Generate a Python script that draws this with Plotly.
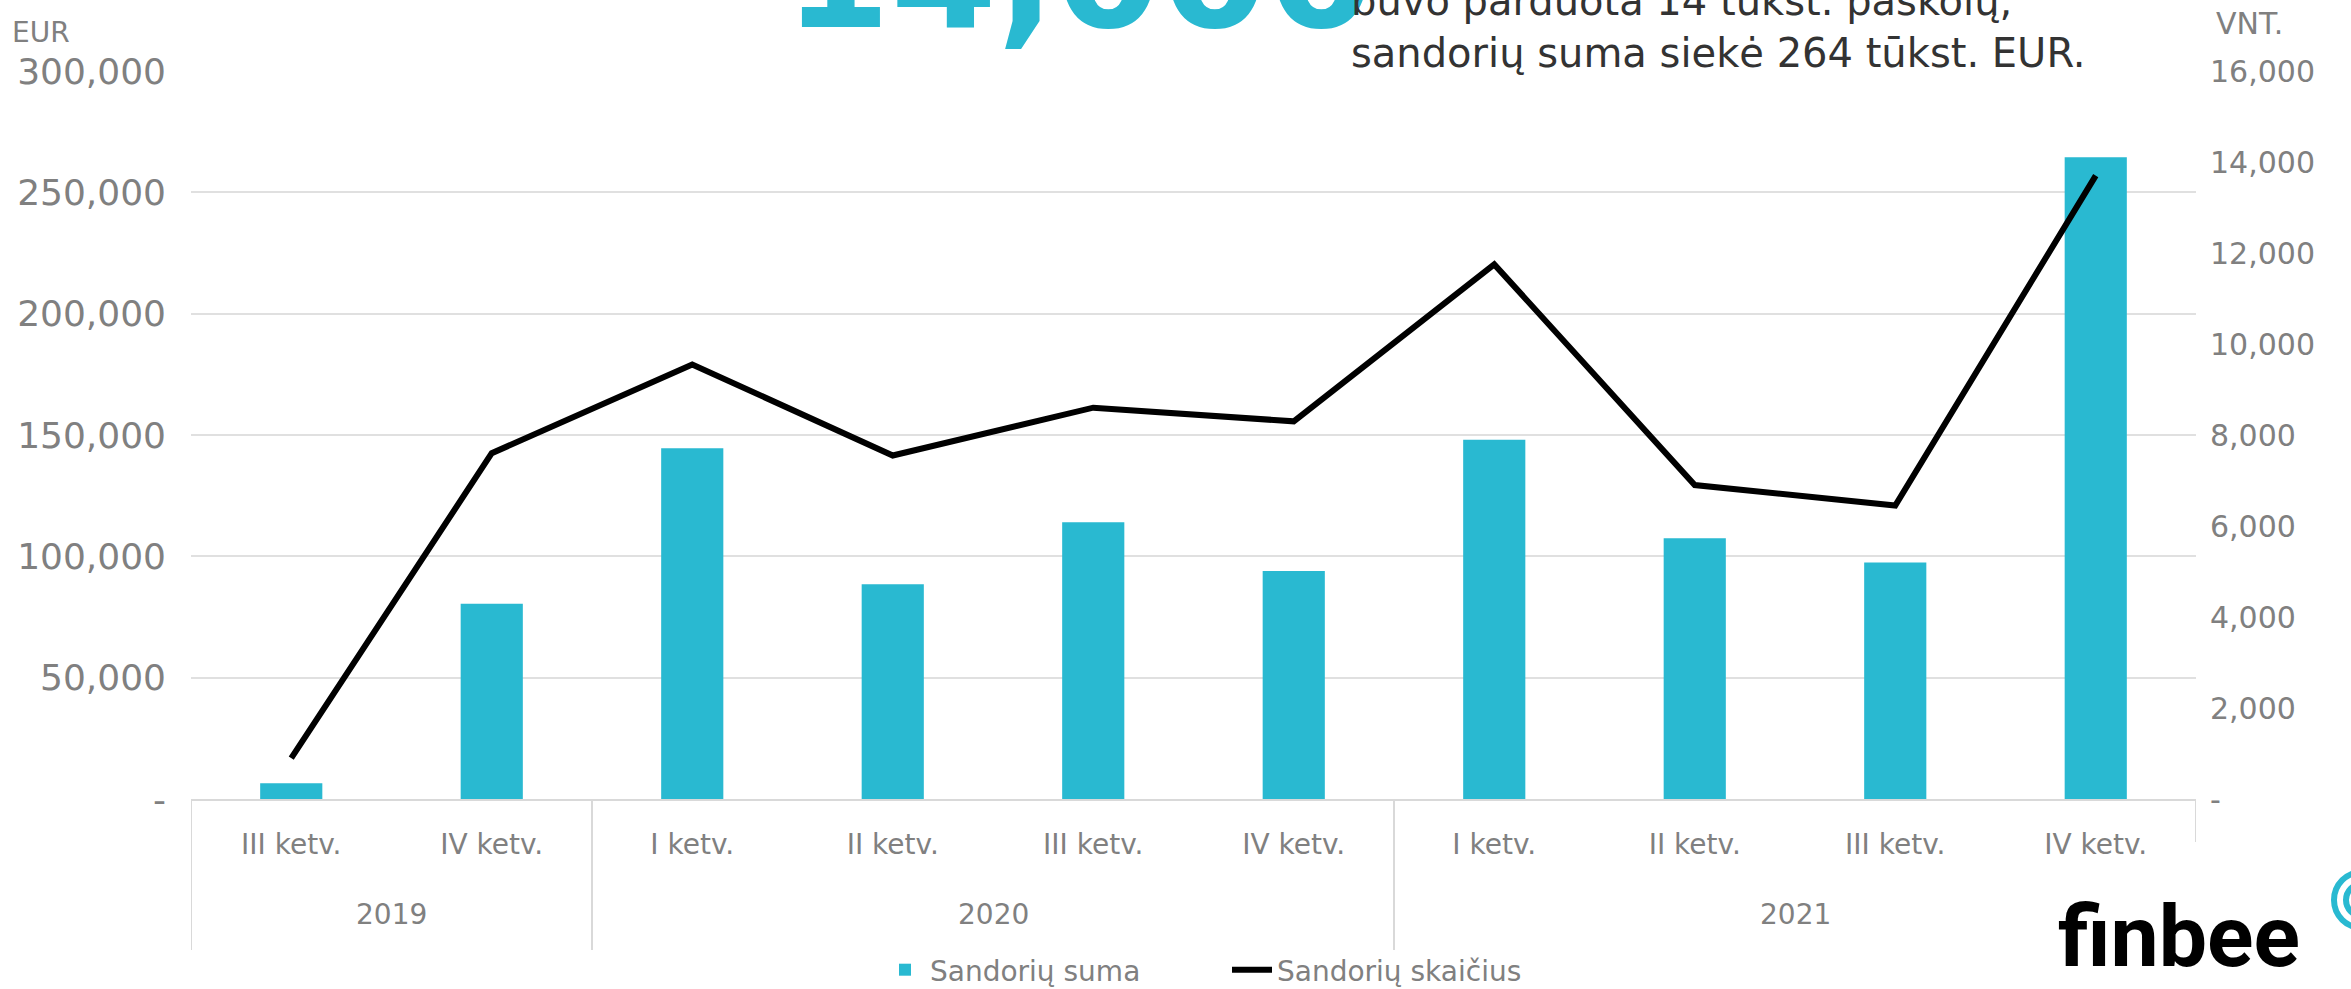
import plotly.graph_objects as go

# ---------------- data ----------------
years = ["2019", "2019", "2020", "2020", "2020", "2020", "2021", "2021", "2021", "2021"]
quarters = ["III ketv.", "IV ketv.", "I ketv.", "II ketv.", "III ketv.", "IV ketv.",
            "I ketv.", "II ketv.", "III ketv.", "IV ketv."]
sandoriu_suma = [6500, 80500, 144500, 88500, 114000, 94000, 148000, 107500, 97500, 264500]
sandoriu_skaicius = [900, 7600, 9550, 7550, 8600, 8300, 11750, 6900, 6450, 13700]
eur_ticks = [0, 50000, 100000, 150000, 200000, 250000, 300000]
eur_labels = ["-", "50,000", "100,000", "150,000", "200,000", "250,000", "300,000"]
vnt_ticks = [0, 2000, 4000, 6000, 8000, 10000, 12000, 14000, 16000]
vnt_labels = ["-", "2,000", "4,000", "6,000", "8,000", "10,000", "12,000", "14,000", "16,000"]

# ---------------- layout constants ----------------
W, H = 2351, 989
L, R, T, B = 191, 155, 71, 190
PW, PH = W - L - R, H - T - B


def px(x):
    return (x - L) / PW


def py(y):
    return (H - B - y) / PH


TEAL = "#29B9D1"
GREY = "#808080"
LINEGREY = "#d9d9d9"
FONT = "DejaVu Sans"

xpos = list(range(len(quarters)))

fig = go.Figure()
fig.add_trace(go.Bar(
    x=xpos, y=sandoriu_suma, name="Sandorių suma",
    marker=dict(color=TEAL, line=dict(width=0)),
))
fig.add_trace(go.Scatter(
    x=xpos, y=sandoriu_skaicius, name="Sandorių skaičius",
    mode="lines", line=dict(color="black", width=6), yaxis="y2",
))

fig.update_layout(
    width=W, height=H,
    margin=dict(l=L, r=R, t=T, b=B, pad=0, autoexpand=False),
    paper_bgcolor="white", plot_bgcolor="white",
    font=dict(family=FONT, color=GREY, size=28),
    bargap=0.69,
    showlegend=True,
    legend=dict(orientation="h", x=px(880), xanchor="left", y=py(970), yanchor="middle",
                font=dict(size=28, color=GREY, family=FONT), itemwidth=40,
                entrywidth=292, entrywidthmode="pixels",
                bgcolor="rgba(0,0,0,0)", traceorder="normal"),
    xaxis=dict(
        range=[-0.5, len(quarters) - 0.5], tickvals=xpos, ticktext=quarters,
        showgrid=False, zeroline=False, showline=True, linecolor=LINEGREY, linewidth=2,
        ticks="", tickfont=dict(size=28, color=GREY, family=FONT), ticklabelstandoff=19,
        automargin=False,
    ),
    yaxis=dict(
        range=[0, 300000], tickvals=eur_ticks, ticktext=eur_labels,
        showgrid=True, gridcolor="#e0e0e0", gridwidth=2, zeroline=False, showline=False,
        tickfont=dict(size=36, color=GREY, family=FONT), ticklabelstandoff=24, automargin=False,
    ),
    yaxis2=dict(
        range=[0, 16000], tickvals=vnt_ticks, ticktext=vnt_labels, overlaying="y", side="right",
        showgrid=False, zeroline=False, showline=False,
        tickfont=dict(size=30, color=GREY, family=FONT), ticklabelstandoff=13, automargin=False,
    ),
)

# year level of the category axis: labels + group dividers
annotations = []
year_order = list(dict.fromkeys(years))
for yr in year_order:
    idx = [i for i, v in enumerate(years) if v == yr]
    annotations.append(dict(text=yr, x=sum(idx) / len(idx), xref="x", y=py(915), yref="paper",
                            xanchor="center", yanchor="middle", showarrow=False,
                            font=dict(size=28, color=GREY, family=FONT)))
bounds = [i - 0.5 for i in range(len(years)) if i == 0 or years[i] != years[i - 1]]
for b in bounds:
    fig.add_shape(type="line", xref="x", yref="paper", x0=b, x1=b, y0=0, y1=py(950),
                  line=dict(color=LINEGREY, width=2))
fig.add_shape(type="line", xref="x", yref="paper", x0=len(years) - 0.5, x1=len(years) - 0.5,
              y0=0, y1=py(842), line=dict(color=LINEGREY, width=2))

extra = [
    dict(text="EUR", x=px(10), y=py(33), xanchor="left", yanchor="middle",
         font=dict(size=28, color=GREY, family=FONT)),
    dict(text="VNT.", x=px(2214), y=py(23), xanchor="left", yanchor="middle",
         font=dict(size=30, color=GREY, family=FONT)),
    dict(text="<b>14,000</b>", x=px(782), y=py(65), xanchor="left", yanchor="bottom",
         font=dict(size=153, color=TEAL, family=FONT)),
    dict(text="buvo parduota 14 tūkst. paskolų,<br>sandorių suma siekė 264 tūkst. EUR.",
         x=px(1349), y=py(78), xanchor="left", yanchor="bottom", align="left",
         font=dict(size=40, color="#333333", family=FONT)),
    dict(text="<b>finbee</b>", x=px(2056), y=py(989), xanchor="left", yanchor="bottom",
         font=dict(size=86, color="black", family="Roboto")),
]
for a in extra:
    a.update(xref="paper", yref="paper", showarrow=False)
annotations += extra
fig.update_layout(annotations=annotations)

# small teal swirl of the logo
for r in (16, 28):
    fig.add_shape(type="circle", xref="paper", yref="paper",
                  x0=px(2362 - r), x1=px(2362 + r), y0=py(900 + r), y1=py(900 - r),
                  line=dict(color=TEAL, width=6))

fig.write_html("out.html", config={"displayModeBar": False},
               post_script="document.body.style.margin='0px';")
